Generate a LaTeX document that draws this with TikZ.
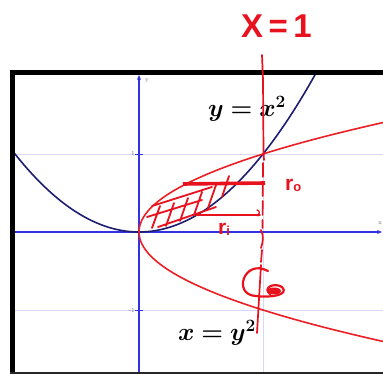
\documentclass[tikz,border=0pt]{standalone}
\usepackage{bm}
\usepackage{fontspec}
\newfontfamily\hand{Liberation Sans}
\usetikzlibrary{arrows.meta}
\definecolor{navycurve}{RGB}{30,30,112}
\definecolor{redcurve}{RGB}{236,32,36}
\definecolor{inkred}{RGB}{232,18,30}
\definecolor{axisblue}{RGB}{50,50,228}
\definecolor{gridcol}{RGB}{216,216,246}
\definecolor{ticktext}{RGB}{110,110,110}
\tikzset{
  gridline/.style={draw=gridcol, line width=0.7pt},
  axisline/.style={draw=axisblue, line width=1.1pt, -{Stealth[length=5pt,width=4pt]}},
  ticklab/.style={text=ticktext, font=\fontsize{6}{6}\selectfont, inner sep=0pt},
  eqlab/.style={font=\fontsize{23}{23}\selectfont, inner sep=0pt},
  ink/.style={draw=inkred, line width=1.7pt, line cap=round, line join=round},
  inklab/.style={text=inkred, inner sep=0pt},
  frameline/.style={draw=black, line width=5pt}
}
\begin{document}
\begin{tikzpicture}[x=1pt,y=-1pt]
\useasboundingbox (0,0) rectangle (383,374);
\fill[white] (0,0) rectangle (383,374);
% plot area
\begin{scope}
  \clip (15,75) rectangle (383,372);
  \draw[gridline] (263,75) -- (263,372);
  \draw[gridline] (15,154) -- (383,154);
  \draw[gridline] (15,310) -- (383,310);
  \draw[axisline] (15,232) -- (382,232);
  \draw[axisline] (139,372) -- (139,75);
  \draw[draw=axisblue, line width=0.8pt] (135,154) -- (143,154) (135,310) -- (143,310);
  \begin{scope}[shift={(139,232)}, x=124pt, y=78pt]
    \draw[navycurve, line width=1.6pt] plot[domain=-1.1:1.5, samples=80, smooth] (\x,{\x*\x});
    \draw[redcurve, line width=1.6pt] plot[domain=-1.85:1.5, samples=80, smooth] ({\x*\x},\x);
  \end{scope}
\end{scope}
% tick labels
\node[ticklab] (ylab) at (147,81) {y};
\node[ticklab] (xlab) at (380,223) {x};
\node[ticklab, anchor=east] (one) at (135,154) {1};
\node[ticklab, anchor=east] (mone) at (135,311) {-1};
% frame
\draw[frameline] (10,72.5) -- (383,72.5);
\draw[frameline] (12.5,70) -- (12.5,374);
\draw[draw=black!85, line width=1.6pt] (10,373) -- (383,373);
% equation labels
\node[eqlab] (eq1) at (247,109) {$\bm{y = x^2}$};
\node[eqlab] (eq2) at (217,333) {$\bm{x = y^2}$};
% handwritten annotations
\node[inklab, anchor=base west, font=\hand\bfseries\fontsize{33}{33}\selectfont] (xeq) at (241,38) {X{\,}={\,}1};
\draw[ink] (262,55) -- (263,80) -- (263.5,152) -- (264,160);
\draw[ink, dash pattern=on 14pt off 5pt] (263,163) -- (262.5,228);
\draw[ink] (261,230) .. controls (264,236) and (263,242) .. (261,248);
\draw[ink, dash pattern=on 14pt off 5pt] (262,250) -- (261,262);
\draw[ink] (261,265) -- (257,333);
% r_o and r_i lines
\draw[ink, line width=3.6pt, line cap=butt] (183,184) -- (265,183);
\draw[ink, line width=1.6pt] (196,215) -- (260,215);
\draw[ink, line width=1.3pt] (257,210) .. controls (260,211) and (260,214) .. (258,216);
\node[inklab, anchor=base west, font=\hand\bfseries\fontsize{21}{21}\selectfont] (ro) at (285,191) {r\raisebox{-1pt}{\fontsize{13}{13}\selectfont o}};
\node[inklab, anchor=base west, font=\hand\bfseries\fontsize{21}{21}\selectfont] (ri) at (218,235) {r\raisebox{-1pt}{\fontsize{13}{13}\selectfont i}};
% hatching
\draw[ink, line width=1.8pt]
  (152,228) -- (160,206)
  (166,226) -- (174,203)
  (180,221) -- (188,198)
  (194,215) -- (202,192)
  (208,208) -- (216,185)
  (222,197) -- (229,176)
  (147,217) -- (202,200)
  (158,227) -- (216,207)
  (152,206) -- (212,187);
% rotation symbol
\draw[ink, line width=2.2pt] (268,271) .. controls (244,258) and (232,295) .. (256,296)
  .. controls (270,298) and (290,295) .. (282,287)
  .. controls (274,282) and (262,288) .. (270,294);
\fill[inkred] (274,291) ellipse [x radius=7pt, y radius=3.5pt];
\end{tikzpicture}
\end{document}
